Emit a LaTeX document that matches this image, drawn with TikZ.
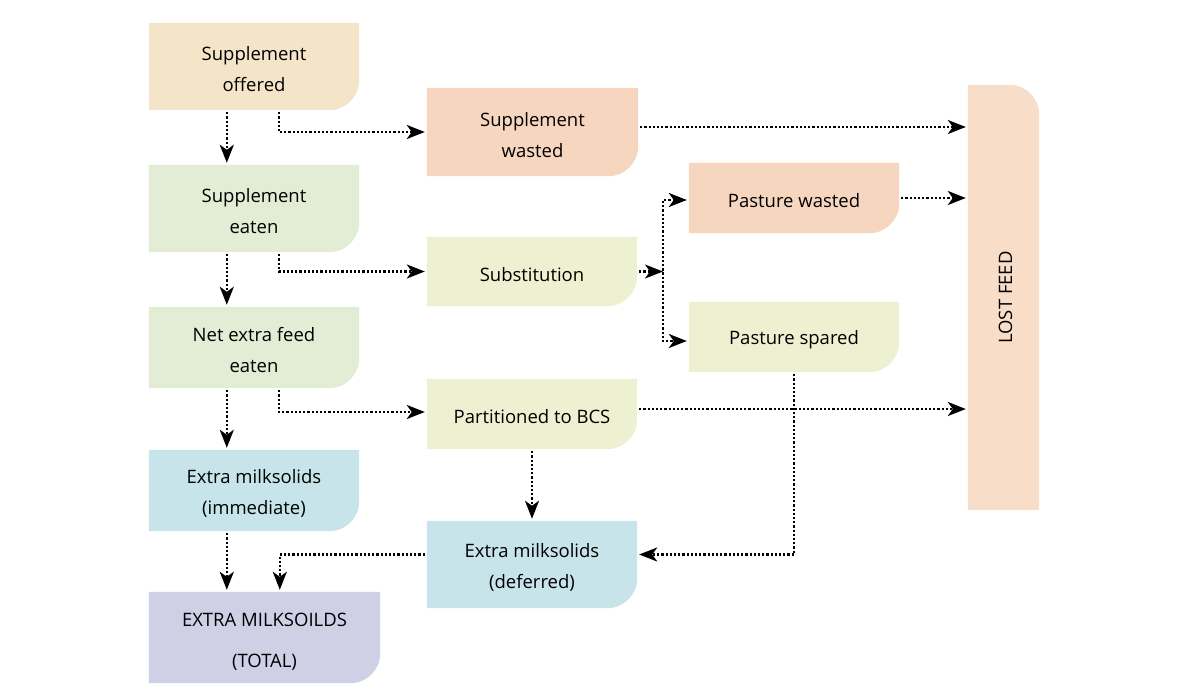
\documentclass[tikz,border=0pt]{standalone}
\usepackage{fontspec}
\setmainfont{Open Sans}
\usetikzlibrary{arrows.meta,calc,backgrounds}
\definecolor{cOffer}{HTML}{F5E5C8}
\definecolor{cSalmon}{HTML}{F7D6C0}
\definecolor{cGreen}{HTML}{E3EDD6}
\definecolor{cYellow}{HTML}{EEF0D2}
\definecolor{cBlue}{HTML}{C7E4EA}
\definecolor{cLav}{HTML}{CFCFE5}
\definecolor{cLost}{HTML}{F8DDC8}
\tikzset{
  box/.style={inner sep=0pt, align=center, font=\fontsize{18.5}{31}\selectfont},
  arr/.style={line width=2.4pt, dash pattern=on 2.2pt off 2pt, -{Stealth[length=18pt,width=14pt,inset=5pt]}, shorten >=2pt, shorten <=2pt},
}
% \boxat{name}{l}{t}{r}{b}{colour}{text}
\newcommand{\boxat}[7]{%
  \node[inner sep=0pt, minimum width={#4-#2}, minimum height={#5-#3}] (#1) at ({(#2+#4)/2},{(#3+#5)/2}) {};
  \node[box] (#1t) at ([yshift=-3pt]#1.center) {#7};
  \begin{pgfonlayer}{background}
  \fill[#6] (#1.north west) -- (#1.north east) [rounded corners=30pt] -- (#1.south east) [rounded corners=0pt] -- (#1.south west) -- cycle;
  \end{pgfonlayer}}
\begin{document}
\begin{tikzpicture}[x=1pt,y=-1pt]
\useasboundingbox (0,0) rectangle (1200,698);
\boxat{so}{149}{23}{359}{110}{cOffer}{Supplement\\offered}
\boxat{sw}{427}{88}{638}{176}{cSalmon}{Supplement\\wasted}
\boxat{se}{149}{165}{359}{252}{cGreen}{Supplement\\eaten}
\boxat{sub}{427}{237}{637}{306}{cYellow}{Substitution}
\boxat{net}{149}{307}{359}{388}{cGreen}{Net extra feed\\eaten}
\boxat{pt}{427}{379}{637}{449}{cYellow}{Partitioned to BCS}
\boxat{imm}{149}{450}{359}{531}{cBlue}{Extra milksolids\\(immediate)}
\boxat{def}{427}{521}{637}{608}{cBlue}{Extra milksolids\\(deferred)}
\boxat{pw}{689}{163}{899}{233}{cSalmon}{Pasture wasted}
\boxat{ps}{689}{302}{899}{372}{cYellow}{Pasture spared}
\node[inner sep=0pt, minimum width=231pt, minimum height=91pt] (tot) at (264.5,637.5) {};
\node[box, font=\fontsize{18.5}{41}\selectfont] (tott) at ([yshift=-4pt]tot.center) {EXTRA MILKSOILDS\\(TOTAL)};
\begin{pgfonlayer}{background}
\fill[cLav] (tot.north west) -- (tot.north east) [rounded corners=30pt] -- (tot.south east) [rounded corners=0pt] -- (tot.south west) -- cycle;
\end{pgfonlayer}
\node[inner sep=0pt, minimum width=71pt, minimum height=425pt] (lf) at (1003.5,297.5) {};
\node[box, rotate=90] (lft) at ([xshift=2pt]lf.center) {LOST FEED};
\begin{pgfonlayer}{background}
\fill[cLost] (lf.south west) -- (lf.south east) [rounded corners=30pt] -- (lf.north east) [rounded corners=0pt] -- (lf.north west) -- cycle;
\end{pgfonlayer}
% connectors
\draw[arr] ([xshift=78pt]so.south west) -- ([xshift=78pt]se.north west);
\draw[arr] ([xshift=130pt]so.south west) |- (sw.west);
\draw[arr] ([yshift=5pt]sw.east) -- ([yshift=5pt]sw.east -| lf.west);
\draw[arr] ([xshift=78pt]se.south west) -- ([xshift=78pt]net.north west);
\draw[arr] ([xshift=130pt]se.south west) |- (sub.west);
\coordinate (br) at (663,271.5);
\draw[arr, shorten >=0pt] (sub.east) -- (br);
\draw[arr, shorten <=0pt] ([yshift=-3pt]br) |- ([yshift=-2pt]pw.west);
\draw[arr, shorten <=0pt] ([yshift=3pt]br) |- ([yshift=-4pt]ps.west);
\draw[arr] (pw.east) -- (pw.east -| lf.west);
\draw[arr] ([xshift=78pt]net.south west) -- ([xshift=78pt]imm.north west);
\draw[arr] ([xshift=130pt]net.south west) |- ([yshift=2pt]pt.west);
\draw[arr] ([yshift=5pt]pt.east) -- ([yshift=5pt]pt.east -| lf.west);
\draw[arr] (pt.south) -- (def.north);
\draw[arr] (ps.south) |- ([yshift=10pt]def.east);
\draw[arr] ([xshift=78pt]imm.south west) -- ([xshift=78pt]tot.north west);
\draw[arr] ([yshift=10pt]def.west) -| ([xshift=131pt]tot.north west);
\end{tikzpicture}
\end{document}
